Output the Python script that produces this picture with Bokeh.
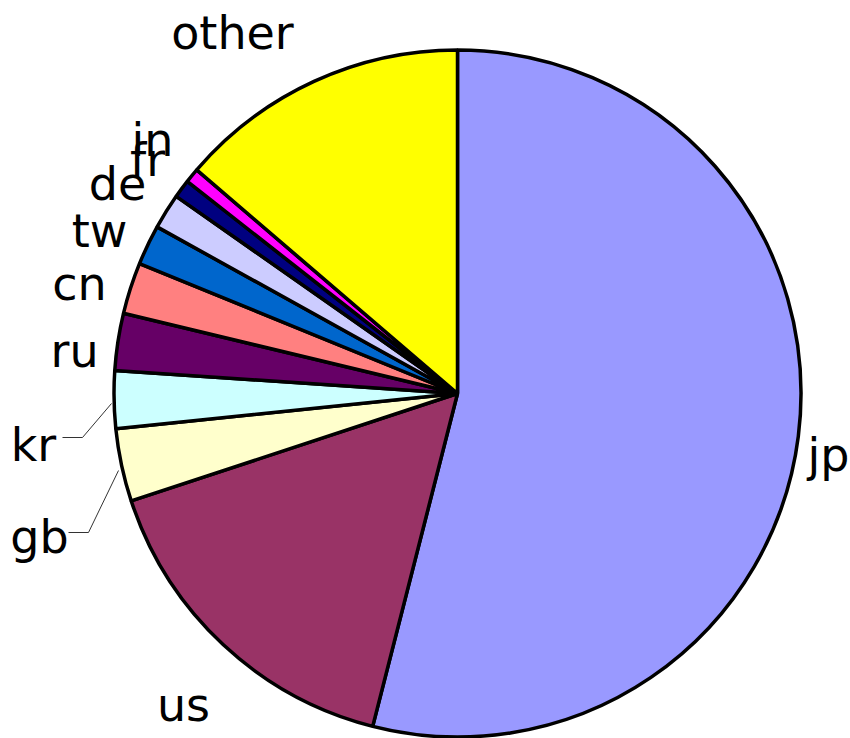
import numpy as np
from bokeh.plotting import figure
from bokeh.models import Range1d, ColumnDataSource
from bokeh.core.properties import value
from bokeh.embed import file_html
from bokeh.resources import INLINE

# ---- data (share of total, %) ----
countries = ["jp", "us", "gb", "kr", "ru", "cn", "tw", "de", "fr", "in", "other"]
shares = [53.97, 15.97, 3.42, 2.71, 2.68, 2.42, 1.89, 1.67, 0.86, 0.69, 13.72]
colors = ["#9999FF", "#993366", "#FFFFCC", "#CCFFFF", "#660066", "#FF8080",
          "#0066CC", "#CCCCFF", "#000080", "#FF00FF", "#FFFF00"]

# ---- layout (reference pixel space, y measured from bottom) ----
H = 738
cx, cy, R = 457, H - 393, 343.5
label_x = [828, 183, 39, 33, 74, 79, 99, 117, 147, 152, 232]
label_base = [470, 720, 552, 460, 366, 299, 246, 199, 175, 155, 48]
shift = 16  # compensate baseline rendering offset

vals = np.array(shares, dtype=float)
frac = vals / vals.sum()
cum = np.concatenate([[0.0], np.cumsum(frac)])
start = np.pi / 2 - cum[:-1] * 2 * np.pi
end = np.pi / 2 - cum[1:] * 2 * np.pi

src = ColumnDataSource(dict(start=start, end=end, color=colors, name=countries))

W, Hh = 850, 738
p = figure(width=W, height=Hh, output_backend="svg", toolbar_location=None,
           x_range=Range1d(0, W), y_range=Range1d(0, Hh),
           min_border=0)
p.axis.visible = False
p.grid.visible = False
p.outline_line_color = None
p.background_fill_color = "white"

p.wedge(x=cx, y=cy, radius=R, start_angle="start", end_angle="end",
        direction="clock", fill_color="color", line_color="black",
        line_width=3.5, source=src)

# leader lines for kr and gb
p.line(x=[62, 82, 111], y=[H - 437, H - 437, H - 403], line_color="#333333", line_width=1)
p.line(x=[68, 88, 118], y=[H - 532, H - 532, H - 470], line_color="#333333", line_width=1)

lsrc = ColumnDataSource(dict(x=label_x, y=[H - b + shift for b in label_base], t=countries))
p.text(x="x", y="y", text="t", source=lsrc, text_align="center",
       text_baseline="alphabetic", text_font=value("DejaVu Sans"),
       text_font_size="46px", text_color="black")

open("out.html", "w").write(file_html(p, INLINE))
